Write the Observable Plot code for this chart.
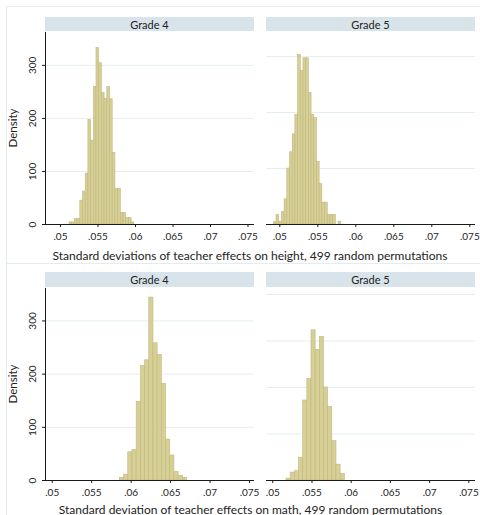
<!DOCTYPE html>
<html>
<head>
<meta charset="utf-8">
<script src="https://cdn.jsdelivr.net/npm/d3@7"></script>
<script src="https://cdn.jsdelivr.net/npm/@observablehq/plot@0.6"></script>
<style>
  html, body { margin: 0; padding: 0; background: #fff; }
  #root { position: relative; width: 480px; height: 515px; overflow: hidden; background: #fff; font-family: Lato, "Open Sans", sans-serif; color: #222; }
  .frame { position: absolute; border: 1px solid #e3ecf1; box-sizing: border-box; }
  .strip { position: absolute; background: #d9e4ea; font-size: 11px; display: flex; align-items: center; justify-content: center; color: #222; }
  .lbl { position: absolute; white-space: nowrap; transform: translate(-50%, -50%); }
  .plotbox { position: absolute; }
</style>
</head>
<body>
<div id="root"></div>
<script>
// ---- data ----
const gradeLabels = ["Grade 4", "Grade 5"];
const xTicks = [0.05, 0.055, 0.06, 0.065, 0.07, 0.075];
const yTicks = [0, 100, 200, 300];
const gridValues = [100, 200, 300, 400];
const yLabel = "Density";
const titleHeight = "Standard deviations of teacher effects on height, 499 random permutations";
const titleMath = "Standard deviation of teacher effects on math, 499 random permutations";

// Height, Grade 4: bin start, bin width, densities
const heightG4Start = 0.0512;
const heightG4Width = 0.00036;
const heightG4Density = [4, 4, 10, 10, 45, 62, 96, 197, 158, 259, 333, 304, 248, 237, 259, 236, 135, 67, 67, 22, 22, 12, 12, 4];

// Height, Grade 5
const heightG5Start = 0.04921;
const heightG5Width = 0.000355;
const heightG5Density = [4, 17, 5, 22, 45, 100, 129, 161, 196, 303, 274, 297, 297, 235, 196, 190, 112, 72, 39, 39, 17, 17, 17, 0, 5];

// Math, Grade 4
const mathG4Start = 0.05857;
const mathG4Width = 0.000532;
const mathG4Density = [5, 11, 53, 57, 148, 215, 226, 344, 258, 236, 182, 77, 47, 16, 9, 5];

// Math, Grade 5
const mathG5Start = 0.05175;
const mathG5Width = 0.000531;
const mathG5Density = [4, 17, 20, 49, 172, 218, 323, 281, 309, 200, 158, 85, 34, 14];

// ---- layout ----
const root = document.getElementById("root");
function el(cls, style, text) {
  const d = document.createElement("div");
  d.className = cls;
  Object.assign(d.style, style);
  if (text != null) d.textContent = text;
  root.appendChild(d);
  return d;
}

el("frame", {left: "6px", top: "6px", width: "490px", height: "258px"});
el("frame", {left: "6px", top: "263px", width: "490px", height: "270px"});

const fmt = d => d3.format(".3~f")(d).replace(/^0/, "");

function panel({density, start, width, xDomain, yMax, showY, left, top}) {
  const bins = density.map((v, i) => ({x1: start + i * width, x2: start + (i + 1) * width, y: v}));
  const mLeft = showY ? 45 : 10;
  const plot = Plot.plot({
    width: mLeft + 209 + 10,
    height: 192 + 24,
    marginLeft: mLeft,
    marginRight: 10,
    marginTop: 0,
    marginBottom: 24,
    style: {background: "transparent", overflow: "visible", fontFamily: "Lato, 'Open Sans', sans-serif", fontSize: "10px", color: "#222"},
    x: {domain: xDomain, axis: null},
    y: {domain: [0, yMax], axis: null},
    marks: [
      Plot.gridY(gridValues.filter(v => v <= yMax), {stroke: "#e4eef1", strokeOpacity: 1, strokeWidth: 1}),
      Plot.rectY(bins, {x1: "x1", x2: "x2", y: "y", fill: "#d6cf96", stroke: "#c2b87e", strokeWidth: 0.6}),
      Plot.ruleY([0], {stroke: "#1a1a1a", strokeWidth: 1}),
      Plot.axisX({ticks: xTicks, tickFormat: fmt, tickSize: 3, tickPadding: 5, label: null, stroke: "#1a1a1a", fill: "#222"}),
      showY ? Plot.ruleX([xDomain[0]], {stroke: "#1a1a1a", strokeWidth: 1}) : null,
      showY ? Plot.axisY({ticks: yTicks, tickSize: 3, tickPadding: 7, tickRotate: -90, label: null, stroke: "#1a1a1a", fill: "#222"}) : null
    ]
  });
  plot.classList.add("plotbox");
  plot.style.position = "absolute";
  plot.style.left = (left - mLeft) + "px";
  plot.style.top = top + "px";
  root.appendChild(plot);
}

// strips
el("strip", {left: "45px", top: "17px", width: "209px", height: "14px"}, gradeLabels[0]);
el("strip", {left: "266px", top: "17px", width: "209px", height: "14px"}, gradeLabels[1]);
el("strip", {left: "45px", top: "272px", width: "209px", height: "15px"}, gradeLabels[0]);
el("strip", {left: "266px", top: "272px", width: "209px", height: "15px"}, gradeLabels[1]);

panel({density: heightG4Density, start: heightG4Start, width: heightG4Width, xDomain: [0.048, 0.07587], yMax: 362, showY: true, left: 45, top: 32});
panel({density: heightG5Density, start: heightG5Start, width: heightG5Width, xDomain: [0.04825, 0.07575], yMax: 343, showY: false, left: 266, top: 32});
panel({density: mathG4Density, start: mathG4Start, width: mathG4Width, xDomain: [0.04915, 0.07563], yMax: 361, showY: true, left: 45, top: 288});
panel({density: mathG5Density, start: mathG5Start, width: mathG5Width, xDomain: [0.0492, 0.07585], yMax: 413, showY: false, left: 266, top: 288});

// axis titles
el("lbl", {left: "250px", top: "255px", fontSize: "12px"}, titleHeight);
el("lbl", {left: "250.5px", top: "509px", fontSize: "12px"}, titleMath);
el("lbl", {left: "12px", top: "128px", fontSize: "11.5px", transform: "translate(-50%, -50%) rotate(-90deg)"}, yLabel);
el("lbl", {left: "12px", top: "384px", fontSize: "11.5px", transform: "translate(-50%, -50%) rotate(-90deg)"}, yLabel);
</script>
</body>
</html>
